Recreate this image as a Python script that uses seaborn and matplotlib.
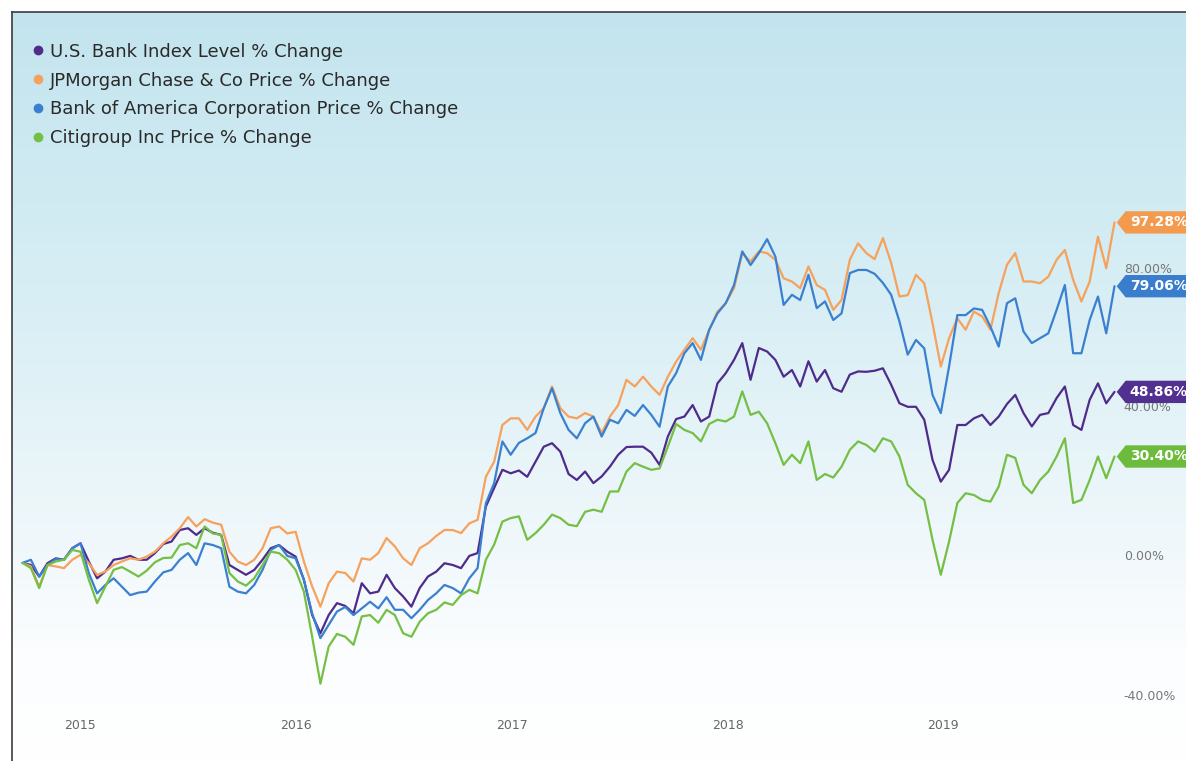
import numpy as np
import pandas as pd
import matplotlib
matplotlib.use("Agg")
import matplotlib.pyplot as plt
import matplotlib.transforms as mtransforms
from matplotlib.colors import LinearSegmentedColormap
from matplotlib.lines import Line2D
from matplotlib.path import Path
import seaborn as sns

# Fechas quincenales, de finales de septiembre 2014 a octubre 2019
fechas = pd.date_range("2014-09-26", periods=133, freq="14D")

series = [
    "U.S. Bank Index Level % Change",
    "JPMorgan Chase & Co Price % Change",
    "Bank of America Corporation Price % Change",
    "Citigroup Inc Price % Change",
]
colores = ["#4f2b8a", "#f6a15c", "#3b80d0", "#74bf44"]
colores_tag = ["#52308f", "#f39a4f", "#3a7dcc", "#6dbb3d"]

bank_index = [
    0, -0.6, -3.9, -0.1, 1.3, 0.9, 4.2, 5.6, 0.4, -4.4,
    -2.5, 0.9, 1.3, 2.0, 0.9, 0.9, 2.8, 5.4, 6.1, 9.4,
    9.9, 8.0, 9.9, 8.6, 8.0, -0.6, -2.0, -3.4, -2.0, 0.9,
    4.2, 5.1, 3.2, 1.8, -4.8, -14.9, -20.1, -14.9, -11.5, -12.3,
    -14.4, -5.8, -8.7, -8.2, -3.4, -7.2, -9.6, -12.5, -7.2, -3.9,
    -2.5, -0.1, -0.6, -1.5, 2.0, 2.8, 16.1, 21.4, 26.6, 25.6,
    26.4, 24.6, 28.9, 33.2, 34.2, 31.8, 25.4, 23.7, 26.1, 22.8,
    24.7, 27.5, 30.9, 33.1, 33.2, 33.2, 31.5, 28.0, 36.1, 41.1,
    41.8, 45.1, 40.4, 41.8, 51.3, 54.2, 58.0, 62.8, 52.3, 61.4,
    60.4, 58.0, 53.2, 55.1, 50.4, 57.6, 51.8, 55.1, 49.9, 48.9,
    53.8, 54.7, 54.6, 54.9, 55.6, 50.9, 45.6, 44.6, 44.6, 40.9,
    29.4, 23.2, 26.6, 39.4, 39.4, 41.3, 42.3, 39.4, 41.8, 45.4,
    48.0, 42.8, 39.0, 42.3, 42.8, 47.1, 50.4, 39.4, 38.0, 46.6,
    51.3, 45.6, 48.86,
]
jpm = [
    0, -1.0, -6.8, -0.6, -1.0, -1.5, 0.9, 2.3, -0.1, -3.4,
    -2.5, -0.6, 0.4, 1.3, 0.9, 1.8, 3.2, 5.6, 7.5, 9.9,
    13.1, 10.4, 12.5, 11.5, 10.9, 3.2, 0.4, -0.6, 0.9, 4.2,
    9.9, 10.4, 8.4, 8.9, 0.4, -6.7, -12.5, -5.8, -2.5, -2.9,
    -5.3, 1.3, 0.9, 2.8, 7.1, 4.7, 1.3, -0.6, 4.2, 5.6,
    7.7, 9.4, 9.4, 8.5, 11.3, 12.3, 24.6, 28.9, 39.4, 41.3,
    41.3, 38.0, 41.8, 44.2, 50.4, 44.2, 41.8, 41.3, 42.8, 41.8,
    37.1, 41.8, 45.1, 52.3, 50.4, 53.2, 50.4, 48.0, 53.2, 57.5,
    60.9, 64.2, 60.9, 66.6, 71.8, 74.2, 78.5, 88.5, 86.1, 89.0,
    88.5, 86.6, 81.3, 80.4, 78.5, 84.7, 79.4, 78.0, 72.3, 75.1,
    86.6, 91.3, 88.5, 86.8, 92.8, 85.7, 76.1, 76.5, 82.3, 79.9,
    68.5, 56.1, 64.2, 69.9, 66.6, 71.8, 70.4, 66.6, 77.1, 85.2,
    88.5, 80.4, 80.4, 79.9, 81.8, 86.6, 89.4, 80.9, 74.7, 80.4,
    93.2, 84.2, 97.28,
]
bac = [
    0, 0.9, -3.9, -0.6, 1.1, 0.9, 4.2, 5.6, -2.9, -8.7,
    -6.3, -4.4, -6.8, -9.2, -8.5, -8.2, -5.3, -2.7, -2.0, 0.9,
    2.8, -0.6, 5.6, 5.1, 4.2, -6.8, -8.2, -8.7, -6.3, -2.0,
    3.7, 5.1, 2.0, 1.3, -4.8, -14.4, -21.5, -17.7, -13.9, -12.6,
    -14.9, -13.0, -11.1, -13.0, -9.8, -13.4, -13.4, -15.8, -13.4, -10.6,
    -8.7, -6.3, -7.2, -8.7, -4.4, -1.5, 17.0, 22.8, 34.7, 30.9,
    34.3, 35.6, 37.1, 44.2, 49.9, 42.8, 38.0, 35.6, 39.9, 41.8,
    36.1, 40.9, 39.9, 43.7, 42.0, 45.1, 42.3, 38.9, 50.4, 54.2,
    59.9, 62.8, 58.0, 66.6, 71.3, 74.2, 79.4, 89.0, 85.1, 88.5,
    92.5, 87.5, 73.7, 76.6, 75.1, 82.3, 72.8, 74.7, 69.4, 71.3,
    82.8, 83.7, 83.7, 82.6, 80.0, 76.6, 69.0, 59.5, 63.7, 61.3,
    48.0, 42.8, 56.1, 70.8, 70.8, 72.7, 72.3, 67.5, 61.8, 74.2,
    75.6, 66.1, 62.8, 64.2, 65.6, 72.3, 79.4, 59.9, 59.9, 69.4,
    76.1, 65.6, 79.06,
]
citi = [
    0, -1.5, -7.2, -0.6, 0.4, 0.9, 3.7, 3.2, -4.8, -11.5,
    -6.8, -2.0, -1.2, -2.5, -3.9, -2.2, 0.2, 1.4, 1.5, 5.1,
    5.6, 4.2, 10.4, 8.4, 8.0, -2.9, -5.3, -6.5, -4.4, -0.6,
    3.2, 2.8, 0.9, -2.0, -8.2, -21.1, -34.5, -23.9, -20.3, -21.1,
    -23.4, -15.3, -14.9, -17.1, -13.4, -14.9, -20.1, -21.1, -16.8, -14.4,
    -13.4, -11.3, -12.0, -9.2, -7.7, -8.7, 0.9, 5.2, 11.8, 12.8,
    13.3, 6.6, 8.5, 10.9, 13.8, 12.8, 10.9, 10.5, 14.6, 15.2,
    14.6, 20.4, 20.4, 26.1, 28.5, 27.5, 26.6, 27.0, 33.2, 39.7,
    38.0, 37.1, 34.7, 39.7, 40.9, 40.4, 41.8, 49.0, 42.3, 43.2,
    39.9, 34.2, 28.0, 30.9, 28.5, 34.7, 23.7, 25.4, 24.4, 27.5,
    32.3, 34.7, 33.7, 31.8, 35.6, 34.7, 30.4, 22.3, 19.9, 18.0,
    6.6, -3.4, 6.1, 17.1, 19.9, 19.4, 18.0, 17.5, 21.8, 30.9,
    30.0, 22.3, 19.9, 23.7, 26.1, 30.4, 35.6, 17.1, 18.0, 23.7,
    30.4, 24.2, 30.40,
]

anios = [2015, 2016, 2017, 2018, 2019]
ticks_y = [-40, 0, 40, 80]
desplaz_etiquetas_y = [6, 6, 15, 13]  # px hacia arriba, como en el original

df = pd.DataFrame({"Fecha": fechas, series[0]: bank_index, series[1]: jpm,
                   series[2]: bac, series[3]: citi})
df_largo = df.melt(id_vars="Fecha", var_name="Serie", value_name="Cambio")

sns.set_style("white")
plt.rcParams["font.family"] = ["DejaVu Sans"]

fig = plt.figure(figsize=(11.86, 7.61), dpi=100)
ax = fig.add_axes([12 / 1186, 0, 1174 / 1186, 749 / 761])

sns.lineplot(data=df_largo, x="Fecha", y="Cambio", hue="Serie", hue_order=series,
             palette=dict(zip(series, colores)), linewidth=1.6, legend=False,
             ax=ax, zorder=3)

# Fondo degradado azul claro -> blanco
degradado = np.linspace(0, 1, 256).reshape(-1, 1)
cmap_fondo = LinearSegmentedColormap.from_list(
    "fondo", [(0, "#c3e4ee"), (0.4, "#d9eff5"), (0.72, "#f1f8fb"), (0.85, "#fbfdfe"), (1.0, "#ffffff")])
ax.imshow(degradado, extent=[0, 1, 0, 1], transform=ax.transAxes, cmap=cmap_fondo,
          aspect="auto", zorder=0)

ax.set_xlim(pd.Timestamp("2014-09-08"), pd.Timestamp("2020-02-16"))
ax.set_ylim(-56.6, 157.4)

ax.set_xticks([pd.Timestamp(f"{a}-01-01") for a in anios])
ax.set_xticklabels([str(a) for a in anios])
ax.tick_params(axis="x", length=0, pad=-30, labelsize=9, labelcolor="#666666")
ax.set_yticks([])
ax.set_xlabel("")
ax.set_ylabel("")

for lado in ["right", "bottom"]:
    ax.spines[lado].set_visible(False)
for lado in ["top", "left"]:
    ax.spines[lado].set_color("#3c3c3c")
    ax.spines[lado].set_linewidth(1.2)

# Etiquetas del eje Y dentro del area
trans_y = mtransforms.blended_transform_factory(ax.transAxes, ax.transData)
for v, d in zip(ticks_y, desplaz_etiquetas_y):
    t = trans_y + mtransforms.ScaledTranslation(0, d / 100, fig.dpi_scale_trans)
    ax.text(0.947, v, f"{v:.2f}%", transform=t, ha="left", va="center",
            fontsize=9, color="#777777", zorder=4)


def forma_tag(x0, y0, width, height, mutation_size):
    pad = 0.3 * mutation_size
    x0, y0 = x0 - pad, y0 - pad
    x1, y1 = x0 + width + 2 * pad, y0 + height + 2 * pad
    h = (y1 - y0) / 2
    return Path([(x0 - h * 0.8, y0 + h), (x0, y0), (x1, y0), (x1, y1), (x0, y1),
                 (x0 - h * 0.8, y0 + h)], closed=True)


valores_finales = [bank_index[-1], jpm[-1], bac[-1], citi[-1]]
for v, c in zip(valores_finales, colores_tag):
    ax.annotate(f"{v:.2f}%", xy=(fechas[-1], v), xytext=(11, 0), textcoords="offset points",
                ha="left", va="center", fontsize=10, fontweight="bold", color="white",
                bbox=dict(boxstyle=forma_tag, fc=c, ec="none"), zorder=5)

manijas = [Line2D([], [], marker="o", linestyle="", color=c, markersize=6) for c in colores]
ax.legend(manijas, series, loc="upper left", bbox_to_anchor=(0.0162, 0.959),
          frameon=False, fontsize=13, handlelength=0.8, handletextpad=0.25,
          labelspacing=0.6, borderpad=0, borderaxespad=0, labelcolor="#2a2a2a")

fig.savefig("out.png", dpi=100)
